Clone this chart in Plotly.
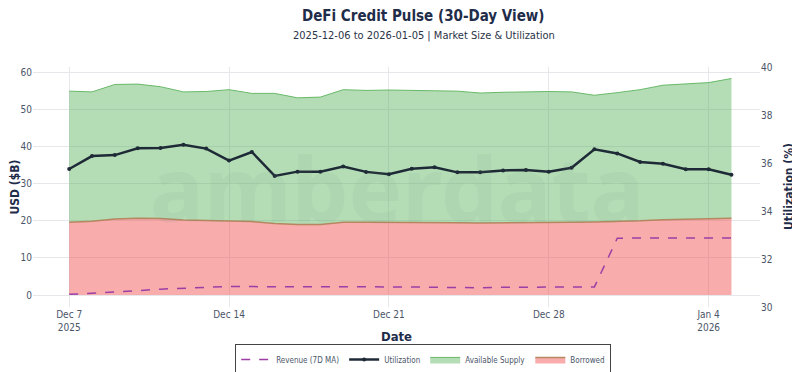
import plotly.graph_objects as go
import pandas as pd

dates = pd.date_range("2025-12-07", "2026-01-05", freq="D")

total_supply = [54.9, 54.7, 56.7, 56.8, 56.1, 54.7, 54.8, 55.3, 54.3, 54.3,
                53.1, 53.3, 55.3, 55.1, 55.2, 55.2, 55.0, 54.9, 54.4, 54.6,
                54.8, 54.8, 54.7, 53.8, 54.5, 55.3, 56.5, 56.8, 57.2, 58.3]
borrowed = [19.6, 19.9, 20.5, 20.7, 20.6, 20.2, 20.1, 20.0, 19.8, 19.3,
            19.0, 19.0, 19.6, 19.6, 19.6, 19.7, 19.6, 19.5, 19.4, 19.4,
            19.5, 19.5, 19.6, 19.7, 19.8, 20.0, 20.3, 20.4, 20.5, 20.7]
available_supply = [round(t - b, 2) for t, b in zip(total_supply, borrowed)]
revenue_7d_ma = [0.2, 0.6, 0.9, 1.2, 1.6, 1.9, 2.1, 2.3, 2.3, 2.3,
                 2.4, 2.4, 2.3, 2.3, 2.2, 2.2, 2.1, 2.0, 2.0, 2.1,
                 2.2, 2.2, 2.2, 2.2, 15.3, 15.4, 15.4, 15.4, 15.4, 15.4]
utilization = [35.75, 36.29, 36.33, 36.61, 36.63, 36.76, 36.60, 36.10, 36.46, 35.46,
               35.64, 35.64, 35.85, 35.63, 35.53, 35.76, 35.82, 35.61, 35.61, 35.69,
               35.71, 35.64, 35.80, 36.57, 36.40, 36.04, 35.97, 35.74, 35.74, 35.51]

FONT = "DejaVu Sans Condensed, Liberation Sans, sans-serif"
NAVY = "#1f2d4a"

fig = go.Figure()
fig.add_trace(go.Scatter(
    x=dates, y=borrowed, name="Borrowed", mode="lines", stackgroup="supply",
    line=dict(color="rgba(176,128,86,0.9)", width=1.5),
    fillcolor="rgba(239,72,72,0.45)", legendrank=4))
fig.add_trace(go.Scatter(
    x=dates, y=available_supply, name="Available Supply", mode="lines", stackgroup="supply",
    line=dict(color="rgba(92,178,92,0.9)", width=1),
    fillcolor="rgba(76,175,80,0.42)", legendrank=3))
fig.add_trace(go.Scatter(
    x=dates, y=revenue_7d_ma, name="Revenue (7D MA)", mode="lines",
    line=dict(color="#9b3fa6", width=1.5, dash="dash"), legendrank=1))
fig.add_trace(go.Scatter(
    x=dates, y=utilization, name="Utilization", mode="lines+markers", yaxis="y2",
    line=dict(color="#1f2a37", width=2.5), marker=dict(size=4, color="#1f2a37"),
    legendrank=2))

fig.add_annotation(text="<b>amberdata</b>", x=0.5, y=0.5, xref="paper", yref="paper",
                   showarrow=False, font=dict(family="Noto Sans, sans-serif", size=90,
                                              color="rgba(120,150,130,0.08)"))

fig.add_annotation(text="2025-12-06 to 2026-01-05 | Market Size & Utilization",
                   x=0.538, y=1.133, xref="paper", yref="paper", showarrow=False,
                   xanchor="center", yanchor="middle",
                   font=dict(family=FONT, size=11, color="#2a3448"))

# right axis title placed precisely
fig.add_annotation(text="<b>Utilization (%)</b>", x=1.0, xshift=29, y=0.5,
                   xref="paper", yref="paper", showarrow=False, textangle=-90,
                   xanchor="center", yanchor="middle",
                   font=dict(family=FONT, size=12, color=NAVY))

fig.update_layout(
    width=800, height=372,
    template="plotly_white",
    font=dict(family=FONT, size=10, color="#4a5568"),
    margin=dict(l=25, r=48, t=59, b=73),
    title=dict(text="<b>DeFi Credit Pulse (30-Day View)</b>", x=0.519, xanchor="center",
               y=0.992, yanchor="top", font=dict(family=FONT, size=15, color=NAVY)),
    xaxis=dict(title=dict(text="<b>Date</b>", font=dict(size=13, color=NAVY)),
               automargin=False,
               range=["2025-12-05 10:00", "2026-01-06 06:00"],
               showgrid=True, gridcolor="#e5e7eb", tickfont=dict(size=10),
               dtick=7 * 86400000, tick0="2025-12-07"),
    yaxis=dict(title=dict(text="<b>USD ($B)</b>", font=dict(size=12, color=NAVY)),
               automargin=False,
               range=[-3.2, 61.4], tickvals=[0, 10, 20, 30, 40, 50, 60],
               gridcolor="#e5e7eb", zeroline=False, tickfont=dict(size=10)),
    yaxis2=dict(automargin=False,
                overlaying="y", side="right", range=[30, 40], dtick=2, showgrid=False,
                zeroline=False, tickfont=dict(size=10)),
    legend=dict(orientation="h", xref="container", yref="container",
                x=0.519, xanchor="center", y=0.097, yanchor="top",
                traceorder="normal",
                bordercolor="#444", borderwidth=1, bgcolor="white",
                font=dict(size=8, color="#4a5568")),
    hovermode="x unified",
)

fig.write_html("out.html")
